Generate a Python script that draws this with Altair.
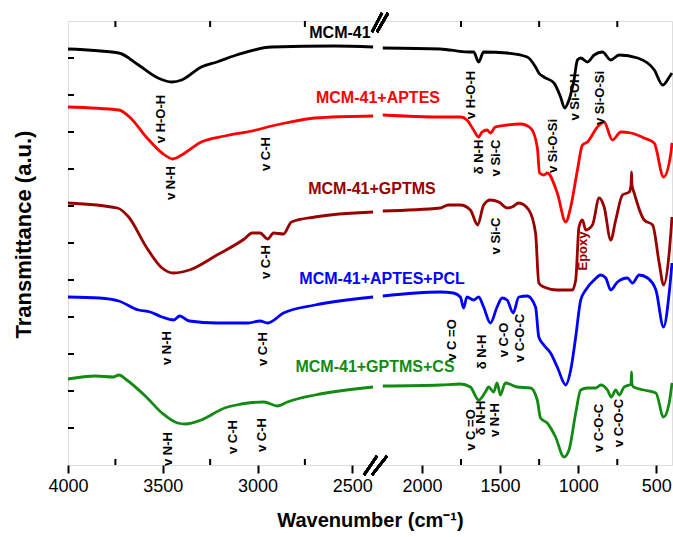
import altair as alt
import pandas as pd

FONT = "Arial, 'Liberation Sans', sans-serif"

SERIES = ["MCM-41", "MCM-41+APTES", "MCM-41+GPTMS", "MCM-41+APTES+PCL", "MCM-41+GPTMS+CS"]
COLORS = ["#000000", "#ff0000", "#990000", "#0000ff", "#138a13"]

# ---- spectra (wavenumber, transmittance a.u.) ----
MCM41_W = [4000, 3732, 3628, 3525, 3452, 3400, 3297, 3214, 3111, 2925, 2594, 2390,
           2250, 1883, 1704, 1669, 1637, 1605, 1455, 1326, 1273, 1252, 1220, 1155, 1113,
           1087, 1059, 1027, 1005, 984, 941, 898, 845, 792, 738, 620, 513, 460, 417, 400]
MCM41_T = [416, 412, 400, 387, 383, 385, 398, 403, 410, 418, 419, 418,
           417, 416, 413, 413, 403, 413, 412, 408, 398, 392, 388, 382, 368,
           357, 365, 385, 405, 407, 403, 410, 413, 405, 410, 407, 395, 380, 388, 392]

APTES_W = [4000, 3732, 3670, 3587, 3504, 3446, 3400, 3297, 3173, 3008, 2925, 2852, 2697, 2390,
           2250, 1883, 1750, 1712, 1669, 1637, 1615, 1583, 1562, 1530, 1455, 1369, 1305,
           1262, 1247, 1220, 1198, 1134, 1080, 1048, 1005, 973, 941, 877, 835, 781, 727,
           663, 578, 514, 454, 407, 400]
APTES_T = [358, 355, 347, 328, 312, 306, 310, 323, 329, 335, 339, 342, 347, 349,
           350, 348, 348, 345, 335, 328, 333, 335, 332, 338, 340, 341, 337,
           318, 292, 290, 292, 272, 243, 258, 295, 320, 323, 338, 343, 325, 333,
           332, 327, 322, 288, 312, 322]

GPTMS_W = [4000, 3740, 3680, 3587, 3504, 3442, 3359, 3214, 3070, 3028, 2987, 2946, 2915, 2863,
           2821, 2697, 2390,
           2250, 1883, 1831, 1754, 1690, 1643, 1605, 1562, 1508, 1455, 1423, 1380, 1316,
           1273, 1252, 1220, 1134, 1038, 1016, 995, 973, 952, 909, 866, 834, 792, 760,
           717, 674, 662, 659, 656, 642, 578, 524, 482, 454, 418, 400]
GPTMS_T = [262, 257, 248, 218, 197, 192, 195, 210, 226, 232, 232, 226, 232, 231,
           243, 248, 253,
           254, 257, 260, 260, 255, 240, 260, 265, 263, 257, 258, 262, 255,
           232, 182, 178, 175, 175, 185, 238, 245, 235, 240, 267, 258, 225, 245,
           270, 273, 280, 293, 280, 272, 245, 240, 202, 180, 212, 248]

PCL_W = [4000, 3835, 3732, 3628, 3566, 3504, 3442, 3411, 3359, 3214, 3049, 2987, 2946, 2863,
         2697, 2390,
         2250, 1883, 1798, 1754, 1733, 1712, 1669, 1637, 1605, 1562, 1519, 1487, 1455,
         1416, 1380, 1326, 1273, 1252, 1220, 1177, 1134, 1080, 1048, 1016, 984, 952, 898,
         856, 824, 792, 749, 685, 653, 610, 556, 503, 454, 418, 400]
PCL_T = [168, 167, 164, 155, 153, 148, 145, 149, 144, 142, 142, 144, 142, 152,
         160, 168,
         169, 173, 172, 168, 157, 168, 165, 168, 158, 142, 158, 167, 165,
         152, 168, 169, 158, 128, 120, 112, 98, 80, 95, 128, 165, 175, 185,
         190, 187, 175, 183, 187, 182, 190, 187, 175, 138, 172, 202]

CS_W = [4000, 3856, 3760, 3732, 3690, 3587, 3504, 3422, 3380, 3297, 3173, 3111, 3049, 2966,
        2894, 2842, 2697, 2390,
        2250, 1883, 1754, 1690, 1637, 1594, 1573, 1541, 1519, 1498, 1466, 1391, 1305,
        1262, 1241, 1198, 1145, 1091, 1059, 1016, 984, 941, 888, 856, 813, 788, 760,
        738, 706, 674, 662, 659, 656, 646, 578, 503, 454, 418, 400]
CS_T = [86, 89, 88, 90, 85, 68, 52, 42, 41, 45, 57, 60, 62, 63,
        59, 63, 70, 78,
        79, 80, 81, 78, 65, 73, 78, 73, 82, 70, 82, 78, 77,
        65, 47, 42, 28, 8, 15, 52, 75, 77, 77, 80, 75, 68, 75,
        70, 78, 80, 81, 93, 81, 78, 75, 72, 48, 62, 82]

# ---- series labels ----
LABEL_W = [2565, 2281, 2396, 2255, 2380]
LABEL_T = [432, 367, 276, 186, 98]

# ---- band assignments ----
ANN_TEXT = ["v H-O-H", "v N-H", "v C-H", "v H-O-H", "δ N-H", "v Si-C", "v Si-O-Si",
            "v Si-OH", "v Si-O-Si", "v Si-C", "v C-H", "Epoxy",
            "v N-H", "v C-H", "v C =O", "δ N-H", "v C-O", "v C-O-C",
            "v N-H", "v C-H", "v C-H", "v C =O", "δ N-H", "v N-H", "v C-O-C", "v C-O-C"]
ANN_W = [3509, 3456, 2955, 1686, 1635, 1526, 1161,
         1021, 861, 1526, 2955, 969,
         3478, 2971, 1807, 1616, 1475, 1372,
         3472, 3129, 2976, 1686, 1622, 1532, 867, 739]
ANN_T = [346, 282, 311, 370, 308, 307, 319,
         368, 367, 229, 203, 214,
         117, 116, 125, 113, 125, 127,
         16, 28, 30, 35, 47, 45, 37, 42]

MAJOR_TICKS = [4000, 3500, 3000, 2500, 2000, 1500, 1000, 500]
MINOR_TICKS = [3750, 3250, 2750, 1750, 1250, 750]
Y_TICKS = [37, 74, 111, 148, 185, 222, 259, 296, 333, 370, 407]

# broken axis: 4000-2380 on the left part, 2300-400 on the right part
POS = "datum.w >= 2340 ? (4000 - datum.w) * 307 / 1620 : 307 + (2300 - datum.w) * 297 / 1900"


def pos(w):
    return (4000 - w) * 307 / 1620 if w >= 2340 else 307 + (2300 - w) * 297 / 1900


rows = []
for name, ws, ts in zip(SERIES, [MCM41_W, APTES_W, GPTMS_W, PCL_W, CS_W],
                        [MCM41_T, APTES_T, GPTMS_T, PCL_T, CS_T]):
    for w, t in zip(ws, ts):
        rows.append({"series": name, "w": w, "t": t, "seg": 0 if w >= 2340 else 1})
lines_df = pd.DataFrame(rows)
lab_df = pd.DataFrame({"series": SERIES, "w": LABEL_W, "t": LABEL_T})
ann_df = pd.DataFrame({"text": ANN_TEXT, "w": ANN_W, "t": ANN_T})
minor_df = pd.DataFrame({"w": MINOR_TICKS})
ytick_df = pd.DataFrame({"t": Y_TICKS})

xscale = alt.Scale(domain=[0, 604], nice=False, zero=False)
yscale = alt.Scale(domain=[0, 444], nice=False, zero=False)
cscale = alt.Scale(domain=SERIES, range=COLORS)

label_expr = ("datum.value < 306 ? round((4000 - datum.value * 1620 / 307) / 50) * 50 : "
              "round((2300 - (datum.value - 307) * 1900 / 297) / 50) * 50")

xaxis = alt.Axis(values=[pos(w) for w in MAJOR_TICKS], labelExpr=label_expr, grid=False,
                 domain=False, ticks=True, tickSize=8, tickWidth=2, tickColor="black",
                 labelFontSize=18, labelColor="black", labelPadding=4, labelFont=FONT,
                 labelFlush=False, labelOverlap=False,
                 title="Wavenumber (cm⁻¹)", titleFontSize=20, titleFont=FONT,
                 titleFontWeight="bold", titleColor="black", titleX=302, titleY=55,
                 titleAlign="center", titleBaseline="middle")
yaxis = alt.Axis(labels=False, ticks=False, domain=False, grid=False,
                 title="Transmittance (a.u.)", titleFontSize=22, titleFont=FONT,
                 titleFontWeight="bold", titleColor="black", titleX=-45, titleY=213,
                 titleAngle=270, titleAlign="center", titleBaseline="middle")

X = alt.X("pos:Q", scale=xscale, axis=xaxis)
Y = alt.Y("t:Q", scale=yscale, axis=yaxis)

lines = alt.Chart(lines_df).transform_calculate(pos=POS).mark_line(
    strokeWidth=2.8, interpolate="monotone").encode(
    x=X, y=Y,
    color=alt.Color("series:N", scale=cscale, legend=None),
    detail="seg:N",
)

labels = alt.Chart(lab_df).transform_calculate(pos=POS).mark_text(
    fontSize=16, fontWeight="bold", font=FONT, align="center", baseline="middle").encode(
    x=X, y=Y,
    text="series:N",
    color=alt.Color("series:N", scale=cscale, legend=None),
)

ann = alt.Chart(ann_df).transform_calculate(pos=POS).mark_text(
    angle=270, fontSize=13, fontWeight="bold", font=FONT, align="center",
    baseline="middle").encode(
    x=X, y=Y,
    text="text:N",
    color=alt.condition("datum.text == 'Epoxy'", alt.value("#990000"), alt.value("black")),
)

minor_bottom = alt.Chart(minor_df).transform_calculate(pos=POS).mark_rule(
    strokeWidth=2, color="black").encode(x=X, y=alt.value(444), y2=alt.value(438))
minor_top = alt.Chart(minor_df).transform_calculate(pos=POS).mark_rule(
    strokeWidth=2, color="black").encode(x=X, y=alt.value(0), y2=alt.value(6))
left_ticks = alt.Chart(ytick_df).mark_rule(strokeWidth=2, color="black").encode(
    y=Y, x=alt.value(0), x2=alt.value(6))


def slash(x1, y1, x2, y2):
    return alt.Chart(ytick_df).mark_rule(strokeWidth=2.5, color="black").encode(
        x=alt.value(x1), y=alt.value(y1), x2=alt.value(x2), y2=alt.value(y2))


breaks = [slash(304, 11, 314, -8), slash(309, 11, 320, -8),
          slash(296, 454, 309, 435), slash(304, 454, 319, 435)]

chart = alt.layer(lines, labels, ann, minor_bottom, minor_top, left_ticks, *breaks).properties(
    width=604, height=444,
    padding={"left": 68, "top": 21, "right": 1, "bottom": 72},
    autosize=alt.AutoSizeParams(type="none"),
).configure_view(stroke="black", strokeWidth=2).configure(font=FONT)

chart.save("out.html", embed_options={"renderer": "svg", "actions": False})
